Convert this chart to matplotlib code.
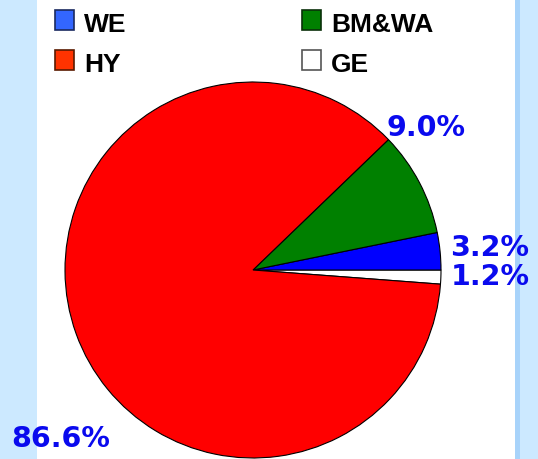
import matplotlib.pyplot as plt
from matplotlib.patches import Rectangle

# shares in pie order (counterclockwise from just below 3 o'clock)
categories = ["GE", "WE", "BM&WA", "HY"]
shares = [1.2, 3.2, 9.0, 86.6]
pie_colors = ["#FFFFFF", "#0000FF", "#008000", "#FF0000"]

# legend entries (two rows x two columns)
legend_names = ["WE", "BM&WA", "HY", "GE"]
legend_colors = ["#3366FF", "#008000", "#FF3300", "#FFFFFF"]
legend_edges = ["#1a2a60", "#0a300a", "#5a1a00", "#555555"]

W, H = 538, 459
fig = plt.figure(figsize=(W / 100, H / 100), dpi=100)
fig.patch.set_facecolor("#CCE9FF")
ax = fig.add_axes([0, 0, 1, 1])

# white panel and right stripe
ax.add_patch(Rectangle((37, 0), 478, H, facecolor="white", edgecolor="none", zorder=0))
ax.add_patch(Rectangle((515, 0), 5, H, facecolor="#A8D3FA", edgecolor="none", zorder=0))

start = -shares[0] / 100 * 360
ax.pie(shares, colors=pie_colors, startangle=start, counterclock=True,
       center=(253, H - 270), radius=188,
       wedgeprops=dict(edgecolor="black", linewidth=0.8), frame=True)
ax.set_xlim(0, W)
ax.set_ylim(0, H)
ax.set_aspect("equal")
ax.axis("off")

# percentage labels
lab_pos = {"GE": (490, 277), "WE": (490, 248), "BM&WA": (426, 128), "HY": (61, 439)}
for name, val in zip(categories, shares):
    x, y = lab_pos[name]
    ax.text(x, H - y, f"{val:.1f}%", color="#0A0AEE", fontsize=20.5,
            fontweight="bold", family="DejaVu Sans", ha="center", va="center")

# legend
sq_x = [55, 302]
row_y = [10, 50]
for i, (name, col, ec) in enumerate(zip(legend_names, legend_colors, legend_edges)):
    cx = sq_x[i % 2]
    ry = row_y[i // 2]
    ax.add_patch(Rectangle((cx, H - ry - 20), 19, 20, facecolor=col,
                           edgecolor=ec, linewidth=1.2))
    ax.text(cx + 29, H - ry - 15.5, name, fontsize=19, fontweight="bold",
            family="Liberation Sans", ha="left", va="center")

fig.savefig("out.png", dpi=100, facecolor=fig.get_facecolor())
